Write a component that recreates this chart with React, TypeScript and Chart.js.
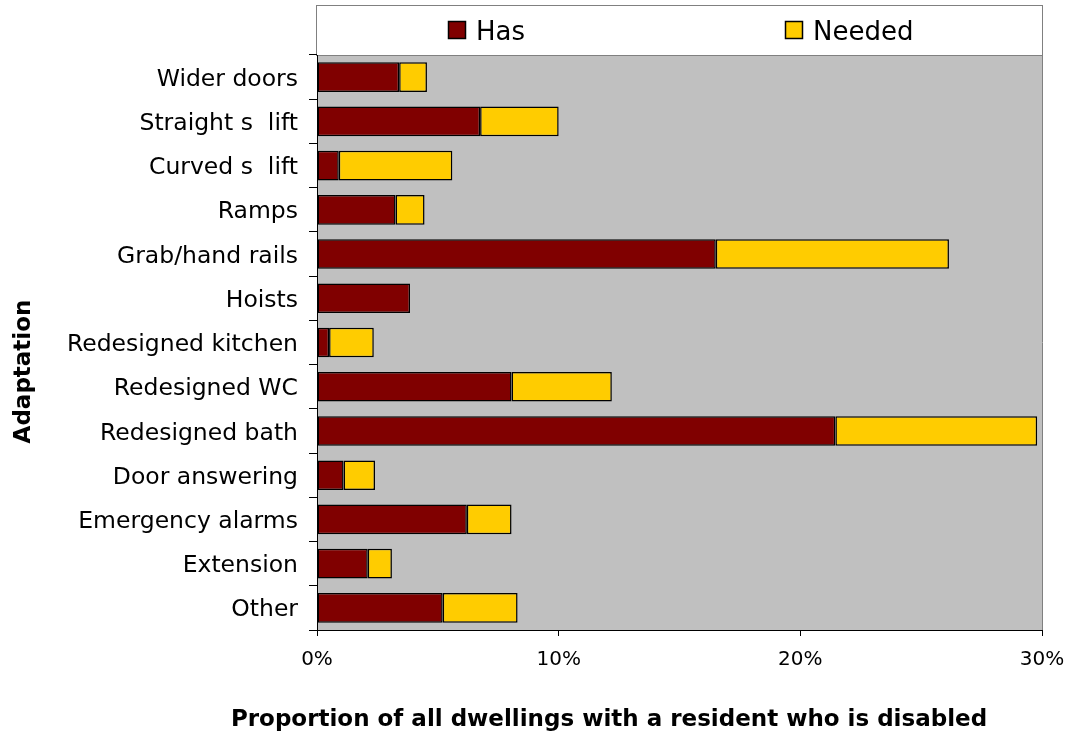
import React, { useEffect, useRef } from "react";
import { Chart, registerables } from "chart.js";

Chart.register(...registerables);

const categories = [
  "Wider doors",
  "Straight s  lift",
  "Curved s  lift",
  "Ramps",
  "Grab/hand rails",
  "Hoists",
  "Redesigned kitchen",
  "Redesigned WC",
  "Redesigned bath",
  "Door answering",
  "Emergency alarms",
  "Extension",
  "Other",
];

// Percent of dwellings with a disabled resident
const hasValues = [3.4, 6.75, 0.9, 3.25, 16.5, 3.85, 0.5, 8.05, 21.45, 1.1, 6.2, 2.1, 5.2];
const neededValues = [1.15, 3.25, 4.7, 1.2, 9.65, 0, 1.85, 4.15, 8.35, 1.3, 1.85, 1.0, 3.1];

const xTicks = [0, 10, 20, 30];

const seriesNames = ["Has", "Needed"];
const seriesColors = ["#800000", "#FFCC00"];

const xTitle = "Proportion of all dwellings with a resident who is disabled";
const yTitle = "Adaptation";

const FONT = "'DejaVu Sans', Verdana, sans-serif";

const framePlugin = {
  id: "frame",
  beforeDraw(chart: any) {
    const { ctx, chartArea } = chart;
    const { left, right, top, bottom } = chartArea;
    ctx.save();
    // plot background
    ctx.fillStyle = "#C0C0C0";
    ctx.fillRect(left, top, right - left, bottom - top);

    // legend box above the plot
    const boxTop = 5;
    const boxLeft = left - 1;
    ctx.fillStyle = "#FFFFFF";
    ctx.fillRect(boxLeft, boxTop, right - boxLeft, top - boxTop);
    ctx.strokeStyle = "#808080";
    ctx.lineWidth = 1;
    ctx.strokeRect(boxLeft + 0.5, boxTop + 0.5, right - boxLeft, top - boxTop);

    ctx.font = `26px ${FONT}`;
    ctx.textBaseline = "alphabetic";
    ctx.textAlign = "left";
    const n = chart.data.datasets.length;
    const slot = (right - boxLeft) / n;
    chart.data.datasets.forEach((ds: any, i: number) => {
      const tw = ctx.measureText(ds.label).width;
      const groupW = 18 + 10 + tw;
      const cx = boxLeft + (i + 0.5) * slot;
      const x0 = Math.round(cx - groupW / 2 - 11);
      ctx.fillStyle = ds.backgroundColor;
      ctx.fillRect(x0, 21, 18, 18);
      ctx.strokeStyle = "#000";
      ctx.lineWidth = 1.5;
      ctx.strokeRect(x0 + 0.5, 21.5, 17, 17);
      ctx.fillStyle = "#000";
      ctx.fillText(ds.label, x0 + 28, 40);
    });

    // right edge of the plot
    ctx.strokeStyle = "#808080";
    ctx.lineWidth = 1;
    ctx.beginPath();
    ctx.moveTo(right + 0.5, top);
    ctx.lineTo(right + 0.5, bottom);
    ctx.stroke();
    ctx.restore();
  },
  afterDraw(chart: any) {
    const { ctx } = chart;
    ctx.save();
    ctx.fillStyle = "#000";
    ctx.font = `bold 23px ${FONT}`;
    ctx.textAlign = "center";
    ctx.textBaseline = "alphabetic";
    ctx.fillText(xTitle, 609, 726);

    ctx.translate(30, 371.5);
    ctx.rotate(-Math.PI / 2);
    ctx.fillText(yTitle, 0, 0);
    ctx.restore();
  },
};

export default function App() {
  const canvasRef = useRef<HTMLCanvasElement | null>(null);

  useEffect(() => {
    const canvas = canvasRef.current;
    if (!canvas) return;
    const barStyle = {
      borderColor: "#000000",
      borderWidth: 1.5,
      borderSkipped: false,
      barPercentage: 0.67,
      categoryPercentage: 1,
    };
    const chart = new Chart(canvas, {
      type: "bar",
      data: {
        labels: categories,
        datasets: [
          { label: seriesNames[0], data: hasValues, backgroundColor: seriesColors[0], ...barStyle },
          { label: seriesNames[1], data: neededValues, backgroundColor: seriesColors[1], ...barStyle },
        ],
      },
      options: {
        indexAxis: "y",
        responsive: false,
        animation: false,
        devicePixelRatio: 1,
        layout: { padding: { top: 55, right: 26, left: 0, bottom: 0 } },
        plugins: {
          legend: { display: false },
          tooltip: { enabled: false },
        },
        scales: {
          x: {
            stacked: true,
            min: xTicks[0],
            max: xTicks[xTicks.length - 1],
            afterBuildTicks(scale: any) {
              scale.ticks = xTicks.map((v) => ({ value: v }));
            },
            afterFit(scale: any) {
              scale.height = 101;
              scale.paddingLeft = 0;
              scale.paddingRight = 0;
            },
            grid: {
              drawOnChartArea: false,
              drawTicks: true,
              tickLength: 6,
              color: "#000000",
            },
            border: { display: true, color: "#000000", width: 1 },
            ticks: {
              color: "#000000",
              padding: 12,
              font: { family: FONT, size: 20 },
              callback: (v: any) => `${v}%`,
            },
          },
          y: {
            stacked: true,
            afterFit(scale: any) {
              scale.width = 317;
              scale.paddingTop = 0;
              scale.paddingBottom = 0;
            },
            grid: {
              offset: true,
              drawOnChartArea: false,
              drawTicks: true,
              tickLength: 8,
              color: "#000000",
            },
            border: { display: true, color: "#000000", width: 1 },
            ticks: {
              color: "#000000",
              padding: 11,
              labelOffset: 2.5,
              font: { family: FONT, size: 23.5 },
              autoSkip: false,
            },
          },
        },
      },
      plugins: [framePlugin],
    } as any);
    return () => chart.destroy();
  }, []);

  return (
    <div style={{ position: "fixed", left: 0, top: 0, width: 1068, height: 731, background: "#fff" }}>
      <canvas ref={canvasRef} width={1068} height={731} style={{ width: 1068, height: 731, display: "block" }} />
    </div>
  );
}
